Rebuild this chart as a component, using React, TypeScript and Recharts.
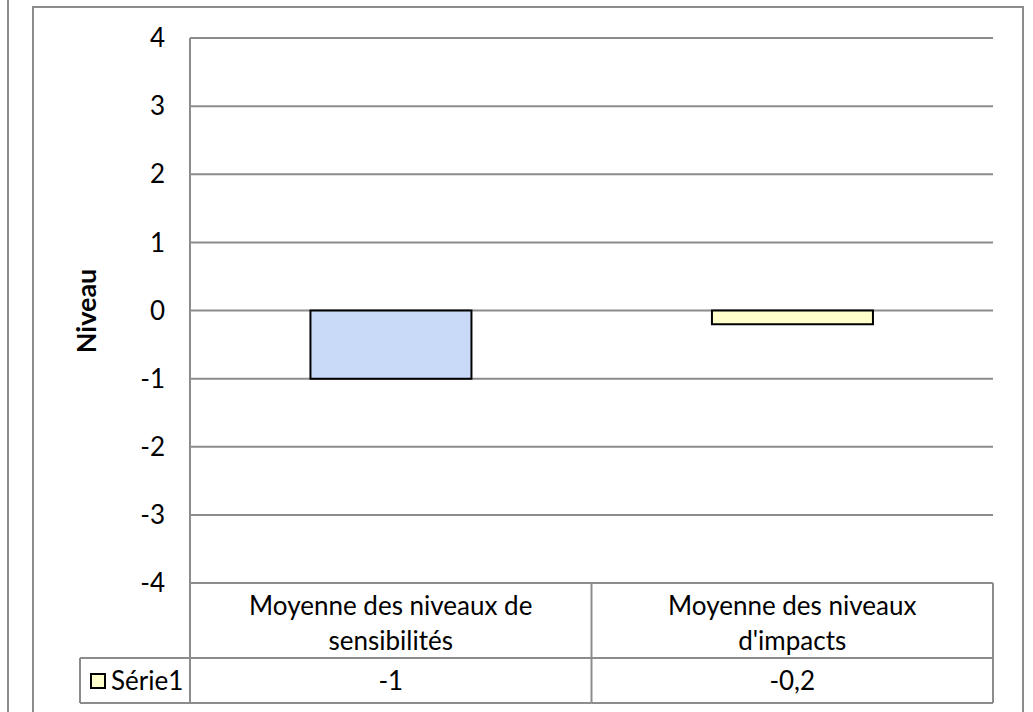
import { BarChart, Bar, XAxis, YAxis, CartesianGrid, Cell } from "recharts";

const categories = [
  ["Moyenne des niveaux de", "sensibilités"],
  ["Moyenne des niveaux", "d'impacts"],
];
const values = [-1, -0.2];
const valueLabels = ["-1", "-0,2"];
const seriesName = "Série1";
const yTicks = [-4, -3, -2, -1, 0, 1, 2, 3, 4];
const barColors = ["#C9DAF8", "#FFFFCC"];
const legendColor = "#FFFFCC";
const yTitle = "Niveau";

const data = categories.map((lines, i) => ({ name: lines.join(" "), value: values[i] }));

const GRID = "#8c8c8c";
const FONT = "Lato, 'Open Sans', sans-serif";

// draws the data table under the plot, one column per category tick
function TableTick(props: any) {
  const { x, y, index, width, visibleTicksCount } = props;
  const colW = width / visibleTicksCount;
  const left = x - colW / 2;
  const right = x + colW / 2;
  const row1 = 75;
  const row2 = 45;
  const lines = categories[index];
  return (
    <g>
      <line x1={right} y1={y} x2={right} y2={y + row1 + row2} stroke={GRID} strokeWidth={2} />
      <line x1={left} y1={y + row1} x2={right} y2={y + row1} stroke={GRID} strokeWidth={2} />
      <line x1={left} y1={y + row1 + row2} x2={right} y2={y + row1 + row2} stroke={GRID} strokeWidth={2} />
      {lines.map((t: string, i: number) => (
        <text key={i} x={x} y={y + 22 + i * 35} textAnchor="middle" dominantBaseline="central" fontSize={26} fill="#000" fontFamily={FONT}>
          {t}
        </text>
      ))}
      <text x={x} y={y + row1 + row2 / 2 - 1} textAnchor="middle" dominantBaseline="central" fontSize={26} fill="#000" fontFamily={FONT}>
        {valueLabels[index]}
      </text>
      {index === 0 && (
        <g>
          <line x1={left} y1={y} x2={left} y2={y + row1 + row2} stroke={GRID} strokeWidth={2} />
          <line x1={left - 110} y1={y + row1} x2={left} y2={y + row1} stroke={GRID} strokeWidth={2} />
          <line x1={left - 110} y1={y + row1 + row2} x2={left} y2={y + row1 + row2} stroke={GRID} strokeWidth={2} />
          <line x1={left - 110} y1={y + row1} x2={left - 110} y2={y + row1 + row2} stroke={GRID} strokeWidth={2} />
          <rect x={left - 99} y={y + row1 + 16} width={14} height={14} fill={legendColor} stroke="#000" strokeWidth={2} />
          <text x={left - 79} y={y + row1 + row2 / 2 - 1} dominantBaseline="central" fontSize={26} fill="#000" fontFamily={FONT}>
            {seriesName}
          </text>
          <text
            x={left - 105}
            y={y - 272}
            transform={`rotate(-90, ${left - 105}, ${y - 272})`}
            textAnchor="middle"
            dominantBaseline="central"
            fontSize={27}
            fontWeight="bold"
            fill="#000"
            fontFamily={FONT}
          >
            {yTitle}
          </text>
        </g>
      )}
    </g>
  );
}

export default function App() {
  return (
    <div style={{ position: "fixed", left: 0, top: 0, width: 1033, height: 712, background: "#fff", overflow: "hidden" }}>
      <div style={{ position: "absolute", left: 7, top: 0, width: 2, height: 712, background: GRID }} />
      <div
        style={{
          position: "absolute",
          left: 32,
          top: 6,
          width: 988,
          height: 720,
          borderLeft: `2px solid ${GRID}`,
          borderTop: `2px solid ${GRID}`,
          borderRight: `2px solid ${GRID}`,
        }}
      />
      <div style={{ position: "absolute", left: 0, top: 0 }}>
        <BarChart
          width={1033}
          height={712}
          data={data}
          margin={{ top: 38, right: 40, bottom: 9, left: 110 }}
          barCategoryGap="30%"
          style={{ fontFamily: FONT }}
        >
          <CartesianGrid vertical={false} stroke={GRID} strokeWidth={2} />
          <YAxis
            width={80}
            domain={[-4, 4]}
            ticks={yTicks}
            interval={0}
            tickLine={false}
            tickSize={0}
            tickMargin={25}
            axisLine={{ stroke: GRID, strokeWidth: 2 }}
            tick={{ fontSize: 26, fill: "#000", fontFamily: FONT }}
          />
          <XAxis
            dataKey="name"
            height={120}
            axisLine={false}
            tickLine={false}
            tickSize={0}
            tickMargin={0}
            interval={0}
            tick={<TableTick />}
          />
          <Bar dataKey="value" stroke="#000" strokeWidth={2} isAnimationActive={false}>
            {data.map((d, i) => (
              <Cell key={`cell-${i}`} fill={barColors[i % barColors.length]} />
            ))}
          </Bar>
        </BarChart>
      </div>
    </div>
  );
}
